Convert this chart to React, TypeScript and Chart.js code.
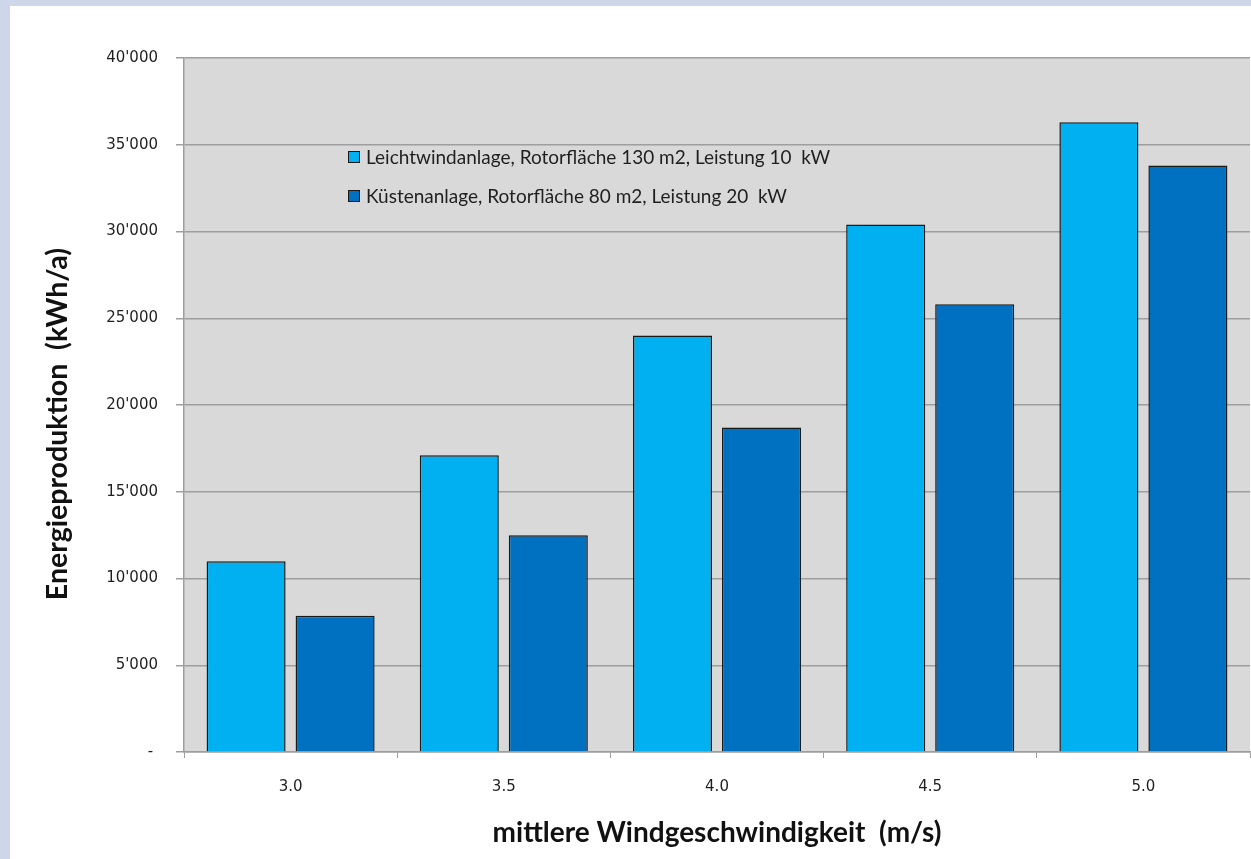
import React, { useEffect, useRef } from "react";
import { Chart, registerables } from "chart.js";

Chart.register(...registerables);

// Mean wind speed classes (m/s)
const windSpeeds = ["3.0", "3.5", "4.0", "4.5", "5.0"];

// Annual energy production (kWh/a)
const lightWindTurbine = [11000, 17100, 24000, 30400, 36300];
const coastalTurbine = [7850, 12500, 18700, 25800, 33800];

const seriesLabels = [
  "Leichtwindanlage, Rotorfläche 130 m2, Leistung 10  kW",
  "Küstenanlage, Rotorfläche 80 m2, Leistung 20  kW",
];
const seriesColors = ["#00B0F0", "#0070C0"];

const yTitle = "Energieproduktion  (kWh/a)";
const xTitle = "mittlere Windgeschwindigkeit  (m/s)";

const formatThousands = (v: number) =>
  v === 0 ? "- " : String(v).replace(/\B(?=(\d{3})+(?!\d))/g, "'");

const CANVAS_W = 1241;
const CANVAS_H = 853;

// Grey plot background behind grid and bars
const plotBackground = {
  id: "plotBackground",
  beforeDraw(chart: any) {
    const { ctx, chartArea } = chart;
    ctx.save();
    ctx.fillStyle = "#d9d9d9";
    ctx.fillRect(
      chartArea.left,
      chartArea.top,
      chartArea.right - chartArea.left,
      chartArea.bottom - chartArea.top
    );
    ctx.restore();
  },
};

// Legend placed inside the plot area
const innerLegend = {
  id: "innerLegend",
  afterDatasetsDraw(chart: any) {
    const { ctx, chartArea } = chart;
    const x0 = chartArea.left + 164;
    const rows = [chartArea.top + 99, chartArea.top + 138];
    ctx.save();
    chart.data.datasets.forEach((ds: any, i: number) => {
      const cy = rows[i];
      ctx.fillStyle = ds.backgroundColor;
      ctx.fillRect(x0, cy - 6, 12, 12);
      ctx.strokeStyle = "#1a1a1a";
      ctx.lineWidth = 1;
      ctx.strokeRect(x0 + 0.5, cy - 5.5, 11, 11);
      ctx.fillStyle = "#1f1f1f";
      ctx.font = "19px Lato";
      ctx.textBaseline = "middle";
      ctx.textAlign = "left";
      ctx.fillText(ds.label, x0 + 18, cy + 1);
    });
    ctx.restore();
  },
};

// Rotated value-axis title, sitting a little below the axis midpoint
const valueAxisTitle = {
  id: "valueAxisTitle",
  afterDraw(chart: any) {
    const { ctx, chartArea } = chart;
    ctx.save();
    ctx.translate(48, chartArea.top + 366);
    ctx.rotate(-Math.PI / 2);
    ctx.fillStyle = "#111";
    ctx.font = "bold 28.5px Lato";
    ctx.textAlign = "center";
    ctx.textBaseline = "middle";
    ctx.fillText(yTitle, 0, 0);
    ctx.restore();
  },
};

export default function App() {
  const canvasRef = useRef<HTMLCanvasElement | null>(null);

  useEffect(() => {
    document.body.style.margin = "0";
    const canvas = canvasRef.current;
    if (!canvas) return;
    const chart = new Chart(canvas, {
      type: "bar",
      data: {
        labels: windSpeeds,
        datasets: [
          {
            label: seriesLabels[0],
            data: lightWindTurbine,
            backgroundColor: seriesColors[0],
            borderColor: "#1a1a1a",
            borderWidth: 1.5,
            categoryPercentage: 0.835,
            barPercentage: 0.888,
          },
          {
            label: seriesLabels[1],
            data: coastalTurbine,
            backgroundColor: seriesColors[1],
            borderColor: "#1a1a1a",
            borderWidth: 1.5,
            categoryPercentage: 0.835,
            barPercentage: 0.888,
          },
        ],
      },
      options: {
        responsive: false,
        animation: false,
        devicePixelRatio: 1,
        layout: { padding: { left: 0, right: 1, top: 52, bottom: 0 } },
        plugins: {
          legend: { display: false },
          tooltip: { enabled: false },
        },
        scales: {
          x: {
            grid: {
              drawOnChartArea: false,
              drawTicks: true,
              tickLength: 6,
              color: "#9e9e9e",
              offset: true,
            },
            border: { display: true, color: "#9e9e9e", width: 1.5 },
            ticks: {
              padding: 20,
              color: "#1f1f1f",
              font: { family: "DejaVu Sans", size: 15 },
            },
            title: {
              display: true,
              text: xTitle,
              color: "#111",
              font: { family: "Lato", size: 28, weight: "bold" },
              padding: { top: 0, bottom: 9 },
            },
            afterFit(scale: any) {
              scale.height = 107;
            },
          },
          y: {
            min: 0,
            max: 40000,
            grid: {
              color: "#9e9e9e",
              lineWidth: 1.5,
              drawTicks: true,
              tickLength: 8,
            },
            border: { display: true, color: "#9e9e9e", width: 1.5 },
            ticks: {
              stepSize: 5000,
              padding: 18,
              color: "#1f1f1f",
              font: { family: "DejaVu Sans", size: 15 },
              callback: (v: any) => formatThousands(Number(v)),
            },
            afterFit(scale: any) {
              scale.width = 174;
            },
          },
        },
      },
      plugins: [plotBackground, innerLegend, valueAxisTitle],
    });
    return () => chart.destroy();
  }, []);

  return (
    <div style={{ position: "fixed", inset: 0, background: "#cdd7e9" }}>
      <div
        style={{
          position: "absolute",
          left: 10,
          top: 6,
          width: CANVAS_W,
          height: CANVAS_H,
          background: "#ffffff",
        }}
      >
        <canvas
          ref={canvasRef}
          width={CANVAS_W}
          height={CANVAS_H}
          style={{ display: "block" }}
        />
      </div>
    </div>
  );
}
